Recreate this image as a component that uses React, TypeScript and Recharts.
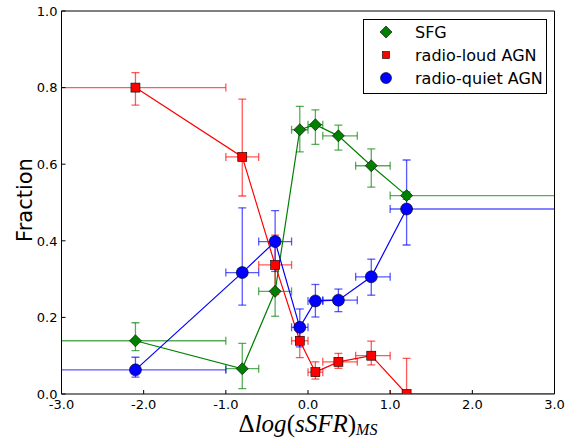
import React from 'react';
import { ScatterChart, Scatter, XAxis, YAxis, ErrorBar } from 'recharts';

// bin centres and bin edges (shared by all three populations)
const binCenter = [-2.1, -0.8, -0.4, -0.1, 0.09, 0.37, 0.77, 1.2];
const binLow = [-4.0, -1.0, -0.6, -0.2, 0.0, 0.18, 0.58, 1.0];
const binHigh = [-1.0, -0.6, -0.2, 0.0, 0.18, 0.6, 1.0, 4.0];

// SFG fractions
const sfgY = [0.139, 0.066, 0.268, 0.69, 0.703, 0.674, 0.596, 0.518];
const sfgLo = [0.113, 0.014, 0.203, 0.632, 0.652, 0.637, 0.54, 0.508];
const sfgHi = [0.186, 0.132, 0.33, 0.751, 0.742, 0.702, 0.64, 0.528];

// radio-loud AGN fractions
const rlY = [0.8, 0.619, 0.337, 0.139, 0.057, 0.084, 0.1, 0.0];
const rlLo = [0.754, 0.517, 0.26, 0.095, 0.039, 0.067, 0.076, 0.0];
const rlHi = [0.839, 0.77, 0.415, 0.173, 0.084, 0.106, 0.138, 0.093];

// radio-quiet AGN fractions
const rqY = [0.063, 0.317, 0.398, 0.174, 0.243, 0.245, 0.306, 0.483];
const rqLo = [0.044, 0.232, 0.32, 0.123, 0.201, 0.215, 0.258, 0.389];
const rqHi = [0.096, 0.486, 0.479, 0.222, 0.286, 0.274, 0.352, 0.611];

const xTicks = [-3, -2, -1, 0, 1, 2, 3];
const yTicks = [0, 0.2, 0.4, 0.6, 0.8, 1.0];

const build = (y: number[], lo: number[], hi: number[]) =>
  binCenter.map((x, i) => ({
    x,
    y: y[i],
    ex: [x - binLow[i], binHigh[i] - x],
    ey: [y[i] - lo[i], hi[i] - y[i]],
  }));

const sfgData = build(sfgY, sfgLo, sfgHi);
const rlData = build(rlY, rlLo, rlHi);
const rqData = build(rqY, rqLo, rqHi);

const GREEN = '#007f00';
const RED = '#ff0000';
const BLUE = '#0000ff';

// layout constants
const W = 576;
const H = 439;
const PLOT_TOP = 11;
const PLOT_RIGHT_GAP = 21.5;
const Y_W = 61.5;
const X_H = 45;
const CLIP_ID = 'fraction-plot-clip';
const CLIP = `url(#${CLIP_ID})`;

const Diamond = (p: any) => {
  const { cx, cy } = p;
  const r = 6;
  return (
    <path
      d={`M${cx},${cy - r}L${cx + r},${cy}L${cx},${cy + r}L${cx - r},${cy}Z`}
      fill={GREEN}
      stroke="#000"
      strokeWidth={0.6}
    />
  );
};
const Square = (p: any) => {
  const { cx, cy } = p;
  const h = 4.5;
  return <rect x={cx - h} y={cy - h} width={2 * h} height={2 * h} fill={RED} stroke="#000" strokeWidth={0.6} />;
};
const Circle = (p: any) => {
  const { cx, cy } = p;
  return <circle cx={cx} cy={cy} r={6} fill={BLUE} stroke="#000" strokeWidth={0.6} />;
};
const Nothing = () => <g />;

const XTick = (p: any) => (
  <text x={p.x} y={p.y + 9.5} textAnchor="middle" fontFamily="'DejaVu Sans', sans-serif" fontSize={13} fill="#000">
    {Number(p.payload.value).toFixed(1)}
  </text>
);
const YTick = (p: any) => (
  <text x={p.x} y={p.y + 4.7} textAnchor="end" fontFamily="'DejaVu Sans', sans-serif" fontSize={13} fill="#000">
    {Number(p.payload.value).toFixed(1)}
  </text>
);

const XLabel = (props: any) => {
  const vb = props.viewBox || { x: 0, y: 0, width: 0, height: 0 };
  const cx = vb.x + vb.width / 2;
  return (
    <text x={cx} y={vb.y + 37.5} textAnchor="middle" fontFamily="'Liberation Serif', serif" fontSize={25} fill="#000">
      <tspan>Δ</tspan>
      <tspan fontStyle="italic">log</tspan>
      <tspan>(</tspan>
      <tspan fontStyle="italic">sSFR</tspan>
      <tspan>)</tspan>
      <tspan fontStyle="italic" fontSize={16} dy={3}>MS</tspan>
    </text>
  );
};

const YLabel = () => (
  <text
    x={32}
    y={200}
    transform="rotate(-90, 32, 200)"
    textAnchor="middle"
    fontFamily="'DejaVu Sans', sans-serif"
    fontSize={21}
    fill="#000"
  >
    Fraction
  </text>
);

const Overlay = () => (
  <svg width={W} height={H} style={{ position: 'absolute', left: 0, top: 0, pointerEvents: 'none' }}>
    <defs>
      <clipPath id={CLIP_ID} clipPathUnits="userSpaceOnUse">
        <rect x={Y_W} y={PLOT_TOP} width={W - Y_W - PLOT_RIGHT_GAP} height={H - PLOT_TOP - X_H} />
      </clipPath>
    </defs>
    <rect x={363.5} y={19.5} width={183} height={74} fill="#fff" stroke="#000" strokeWidth={1} />
    <Diamond cx={386} cy={32} />
    <rect x={382.5} y={51.5} width={7} height={7} fill={RED} stroke="#000" strokeWidth={0.6} />
    <circle cx={386} cy={78} r={5.5} fill={BLUE} stroke="#000" strokeWidth={0.6} />
    <g fontFamily="'DejaVu Sans', sans-serif" fontSize={16} fill="#000">
      <text x={415} y={37.8}>SFG</text>
      <text x={415} y={60.8}>radio-loud AGN</text>
      <text x={415} y={83.8}>radio-quiet AGN</text>
    </g>
  </svg>
);

const errProps = { width: 4, strokeOpacity: 0.65, strokeWidth: 1.3, clipPath: CLIP };

export default function App() {
  return (
    <div style={{ position: 'absolute', left: 0, top: 0, width: W, height: H, background: '#fff' }}>
      <ScatterChart width={W} height={H} margin={{ top: PLOT_TOP - 1, right: PLOT_RIGHT_GAP - 1, left: 0, bottom: 0 }}>
        <XAxis
          type="number"
          dataKey="x"
          domain={[-3, 3]}
          ticks={xTicks}
          allowDataOverflow
          height={X_H}
          tickSize={-4}
          tickMargin={9}
          tick={<XTick />}
          axisLine={{ stroke: '#000', strokeWidth: 1 }}
          tickLine={{ stroke: '#000', strokeWidth: 1 }}
          label={<XLabel />}
        />
        <XAxis
          xAxisId="top"
          orientation="top"
          type="number"
          dataKey="x"
          domain={[-3, 3]}
          ticks={xTicks}
          allowDataOverflow
          height={1}
          tickSize={-4}
          tick={false}
          axisLine={{ stroke: '#000', strokeWidth: 1 }}
          tickLine={{ stroke: '#000', strokeWidth: 1 }}
        />
        <YAxis
          type="number"
          dataKey="y"
          domain={[0, 1]}
          ticks={yTicks}
          allowDataOverflow
          width={Y_W}
          tickSize={-4}
          tickMargin={8}
          tick={<YTick />}
          axisLine={{ stroke: '#000', strokeWidth: 1 }}
          tickLine={{ stroke: '#000', strokeWidth: 1 }}
          label={<YLabel />}
        />
        <YAxis
          yAxisId="right"
          orientation="right"
          type="number"
          dataKey="y"
          domain={[0, 1]}
          ticks={yTicks}
          allowDataOverflow
          width={1}
          tickSize={-4}
          tick={false}
          axisLine={{ stroke: '#000', strokeWidth: 1 }}
          tickLine={{ stroke: '#000', strokeWidth: 1 }}
        />
        <Scatter
          name="frame"
          data={sfgData}
          xAxisId="top"
          yAxisId="right"
          isAnimationActive={false}
          shape={<Nothing />}
          legendType="none"
        />
        <Scatter
          name="SFG"
          data={sfgData}
          isAnimationActive={false}
          line={{ stroke: GREEN, strokeWidth: 1.2 }}
          lineType="joint"
          shape={<Diamond />}
        >
          <ErrorBar dataKey="ex" direction="x" stroke={GREEN} {...errProps} />
          <ErrorBar dataKey="ey" direction="y" stroke={GREEN} {...errProps} />
        </Scatter>
        <Scatter
          name="radio-loud AGN"
          data={rlData}
          isAnimationActive={false}
          line={{ stroke: RED, strokeWidth: 1.2 }}
          lineType="joint"
          shape={<Square />}
        >
          <ErrorBar dataKey="ex" direction="x" stroke={RED} {...errProps} />
          <ErrorBar dataKey="ey" direction="y" stroke={RED} {...errProps} />
        </Scatter>
        <Scatter
          name="radio-quiet AGN"
          data={rqData}
          isAnimationActive={false}
          line={{ stroke: BLUE, strokeWidth: 1.2 }}
          lineType="joint"
          shape={<Circle />}
        >
          <ErrorBar dataKey="ex" direction="x" stroke={BLUE} {...errProps} />
          <ErrorBar dataKey="ey" direction="y" stroke={BLUE} {...errProps} />
        </Scatter>
      </ScatterChart>
      <Overlay />
    </div>
  );
}
